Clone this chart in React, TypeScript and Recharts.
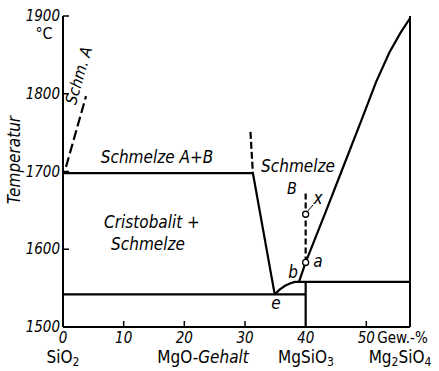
import {
  ComposedChart,
  Line,
  Scatter,
  XAxis,
  YAxis,
} from "recharts";

// MgO content in wt-%, temperature in °C
const xTicks = [0, 10, 20, 30, 40, 50];
const yTicks = [1500, 1600, 1700, 1800, 1900];

const monotectic = [
  { x: 0, y: 1698 },
  { x: 31.3, y: 1698 },
];
const gapBoundary = [
  { x: 30.9, y: 1751 },
  { x: 31.3, y: 1698 },
];
const cristobaliteLiquidus = [
  { x: 31.3, y: 1698 },
  { x: 34.9, y: 1542 },
];
const eutectic = [
  { x: 0, y: 1542 },
  { x: 40, y: 1542 },
];
const enstatiteLiquidus = [
  { x: 34.9, y: 1542 },
  { x: 35.7, y: 1548 },
  { x: 36.6, y: 1553 },
  { x: 37.4, y: 1556 },
  { x: 38.2, y: 1558 },
  { x: 38.9, y: 1558 },
];
const peritectic = [
  { x: 38.9, y: 1558 },
  { x: 57.2, y: 1558 },
];
const forsteriteLiquidus = [
  { x: 38.9, y: 1558 },
  { x: 40, y: 1583 },
  { x: 43.4, y: 1650 },
  { x: 45.9, y: 1700 },
  { x: 49.2, y: 1766 },
  { x: 51.6, y: 1815 },
  { x: 53.8, y: 1853 },
  { x: 55.6, y: 1878 },
  { x: 57.2, y: 1897 },
];
const metasilicate = [
  { x: 40, y: 1500 },
  { x: 40, y: 1558 },
];
const coolingPath = [
  { x: 40, y: 1583 },
  { x: 40, y: 1674 },
];
const meltA = [
  { x: 0.5, y: 1706 },
  { x: 3.8, y: 1797 },
];
const markedPoints = [
  { x: 40, y: 1583 },
  { x: 40, y: 1645 },
];

const FONT = "'DejaVu Sans Condensed', 'Liberation Sans Narrow', 'DejaVu Sans', sans-serif";

function LeftTick(props: any) {
  const { x, y, payload } = props;
  return (
    <g>
      {payload.value !== 1500 && (
        <line x1={x} x2={x + 6} y1={y} y2={y} stroke="#000" strokeWidth={1.5} />
      )}
      <text
        x={x - 3}
        y={y}
        dy={5}
        textAnchor="end"
        fontSize={15}
        fontStyle="italic"
        fontFamily={FONT}
        fill="#000"
      >
        {payload.value}
      </text>
    </g>
  );
}

function RightTick(props: any) {
  const { x, y, payload } = props;
  if (payload.value === 1500) return <g />;
  return <line x1={x} x2={x - 6} y1={y} y2={y} stroke="#000" strokeWidth={1.5} />;
}

function BottomTick(props: any) {
  const { x, y, payload } = props;
  return (
    <g>
      {payload.value !== 0 && payload.value !== 40 && (
        <line x1={x} x2={x} y1={y} y2={y - 6} stroke="#000" strokeWidth={1.5} />
      )}
      <text
        x={x}
        y={y}
        dy={16}
        textAnchor="middle"
        fontSize={15}
        fontStyle="italic"
        fontFamily={FONT}
        fill="#000"
      >
        {payload.value}
      </text>
      {payload.value === 50 && (
        <text x={x + 11} y={y} dy={16} fontSize={15} fontFamily={FONT} fill="#000">
          Gew.-%
        </text>
      )}
    </g>
  );
}

function seg(data: any[], dashed?: string, key?: string) {
  return (
    <Line
      key={key}
      data={data}
      dataKey="y"
      type="linear"
      stroke="#000"
      strokeWidth={2.2}
      strokeDasharray={dashed}
      dot={false}
      activeDot={false}
      isAnimationActive={false}
    />
  );
}

const it = { fontStyle: "italic" as const };

export default function App() {
  return (
    <div
      style={{
        position: "absolute",
        left: 0,
        top: 0,
        width: 439,
        height: 371,
        background: "#fff",
        fontFamily: FONT,
      }}
    >
      <ComposedChart
        width={439}
        height={371}
        margin={{ top: 16, right: 19, bottom: 24, left: 23 }}
      >
        <XAxis
          type="number"
          dataKey="x"
          domain={[0, 57.2]}
          ticks={xTicks}
          height={20}
          tickSize={0}
          tickMargin={0}
          tick={<BottomTick />}
          axisLine={{ stroke: "#000", strokeWidth: 2 }}
          allowDataOverflow
        />
        <YAxis
          yAxisId={0}
          type="number"
          domain={[1500, 1900]}
          ticks={yTicks}
          width={40}
          tickSize={0}
          tickMargin={0}
          tick={<LeftTick />}
          axisLine={{ stroke: "#000", strokeWidth: 2 }}
          allowDataOverflow
        />
        <YAxis
          yAxisId="r"
          orientation="right"
          type="number"
          domain={[1500, 1900]}
          ticks={yTicks}
          width={10}
          tickSize={0}
          tickMargin={0}
          tick={<RightTick />}
          axisLine={{ stroke: "#000", strokeWidth: 2 }}
        />
        {seg(monotectic, undefined, "m")}
        {seg(gapBoundary, "7 3", "g")}
        {seg(cristobaliteLiquidus, undefined, "c")}
        {seg(eutectic, undefined, "eu")}
        {seg(enstatiteLiquidus, undefined, "en")}
        {seg(peritectic, undefined, "p")}
        {seg(forsteriteLiquidus, undefined, "f")}
        {seg(metasilicate, undefined, "ms")}
        {seg(coolingPath, "6 3", "cp")}
        {seg(meltA, "10 4", "a")}
        <Scatter
          data={markedPoints}
          dataKey="y"
          isAnimationActive={false}
          shape={(p: any) => (
            <circle cx={p.cx} cy={p.cy} r={3} fill="#fff" stroke="#000" strokeWidth={1.3} />
          )}
        />
      </ComposedChart>
      <svg
        width={439}
        height={371}
        style={{ position: "absolute", left: 0, top: 0, pointerEvents: "none" }}
        fontFamily={FONT}
      >
        <text x={44} y={39} fontSize={16} textAnchor="middle">°C</text>
        <text
          x={20}
          y={160}
          fontSize={17}
          textAnchor="middle"
          transform="rotate(-90 20 160)"
          style={it}
        >
          Temperatur
        </text>
        <text x={84} y={77} fontSize={16} textAnchor="middle" transform="rotate(-74 84 77)" style={it}>
          Schm. A
        </text>
        <text x={157} y={163} fontSize={17} textAnchor="middle" style={it}>
          Schmelze A+B
        </text>
        <text x={152} y={228} fontSize={17} textAnchor="middle" style={it}>
          Cristobalit +
        </text>
        <text x={148} y={250} fontSize={17} textAnchor="middle" style={it}>
          Schmelze
        </text>
        <text x={298} y={172} fontSize={17} textAnchor="middle" style={it}>
          Schmelze
        </text>
        <text x={292} y={194} fontSize={16} textAnchor="middle" style={it}>
          B
        </text>
        <text x={318} y={204} fontSize={17} textAnchor="middle" style={it}>x</text>
        <line x1={307} y1={212} x2={313} y2={205} stroke="#000" strokeWidth={1} />
        <text x={318} y={267} fontSize={17} textAnchor="middle" style={it}>a</text>
        <text x={293} y={278} fontSize={17} textAnchor="middle" style={it}>b</text>
        <text x={276} y={309} fontSize={17} textAnchor="middle" style={it}>e</text>
        <text x={63} y={363} fontSize={17} textAnchor="middle">
          SiO<tspan fontSize={12} dy={3}>2</tspan>
        </text>
        <text x={203} y={363} fontSize={17} textAnchor="middle">
          MgO-<tspan style={it}>Gehalt</tspan>
        </text>
        <text x={306} y={363} fontSize={17} textAnchor="middle">
          MgSiO<tspan fontSize={12} dy={3}>3</tspan>
        </text>
        <text x={400} y={363} fontSize={17} textAnchor="middle">
          Mg<tspan fontSize={12} dy={3}>2</tspan>
          <tspan dy={-3}>SiO</tspan>
          <tspan fontSize={12} dy={3}>4</tspan>
        </text>
      </svg>
    </div>
  );
}
